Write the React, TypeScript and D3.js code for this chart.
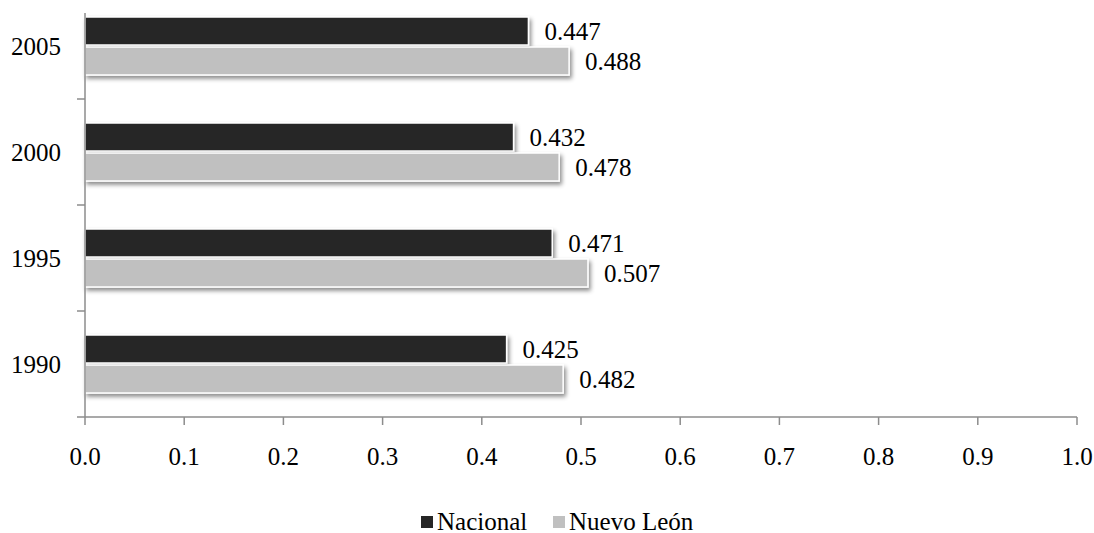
import React from "react";
import * as d3 from "d3";

const years = ["2005", "2000", "1995", "1990"];
const nacional = [0.447, 0.432, 0.471, 0.425];
const nuevoLeon = [0.488, 0.478, 0.507, 0.482];
const xTicks = [0, 0.1, 0.2, 0.3, 0.4, 0.5, 0.6, 0.7, 0.8, 0.9, 1.0];
const seriesNames = ["Nacional", "Nuevo León"];
const seriesColors = ["#262626", "#c0c0c0"];

const W = 1094;
const H = 533;
const left = 85;
const right = 1077;
const axisTop = 13;
const bottom = 417;
const axisColor = "#8c8c8c";
const serif = "Liberation Serif";
const fs = 25;

export default function App() {
  const x = d3.scaleLinear().domain([0, 1]).range([left, right]);
  const y = d3.scaleBand().domain(years).range([-7, bottom]);
  const bw = y.bandwidth();
  const barH = 28;
  const gap = 2;

  const rows = years.map((yr, i) => ({ yr, vals: [nacional[i], nuevoLeon[i]] }));

  return (
    <svg
      width={W}
      height={H}
      fontFamily={serif}
      style={{ display: "block", position: "absolute", left: 0, top: 0 }}
    >
      <defs>
        <filter id="shadow" x="-5%" y="-30%" width="110%" height="180%">
          <feDropShadow dx="2" dy="3" stdDeviation="2" floodColor="#000" floodOpacity="0.45" />
        </filter>
      </defs>
      <rect width={W} height={H} fill="#fff" />

      {rows.map((r) => {
        const c = (y(r.yr) as number) + bw / 2;
        const top = c - barH - gap / 2;
        return (
          <g key={r.yr}>
            {r.vals.map((v, s) => {
              const by = top + s * (barH + gap);
              return (
                <g key={s}>
                  <rect
                    x={x(0)}
                    y={by}
                    width={x(v) - x(0)}
                    height={barH}
                    fill={seriesColors[s]}
                    stroke="#fff"
                    strokeWidth={1.5}
                    filter="url(#shadow)"
                  />
                  <text x={x(v) + 16} y={by + barH / 2} dominantBaseline="central" fontSize={fs} fill="#000">
                    {v.toFixed(3)}
                  </text>
                </g>
              );
            })}
            <text x={61} y={c} textAnchor="end" dominantBaseline="central" fontSize={fs} fill="#000">
              {r.yr}
            </text>
          </g>
        );
      })}

      {/* y axis */}
      <line x1={left} x2={left} y1={axisTop} y2={bottom} stroke={axisColor} strokeWidth={1.5} />
      {years.slice(0, -1).map((yr) => {
        const yy = (y(yr) as number) + bw;
        return <line key={yr} x1={left - 8} x2={left} y1={yy} y2={yy} stroke={axisColor} strokeWidth={1.5} />;
      })}

      {/* x axis */}
      <line x1={left - 8} x2={right} y1={bottom} y2={bottom} stroke={axisColor} strokeWidth={1.5} />
      {xTicks.map((t) => (
        <g key={t}>
          <line x1={x(t)} x2={x(t)} y1={bottom} y2={bottom + 8} stroke={axisColor} strokeWidth={1.5} />
          <text x={x(t)} y={456} textAnchor="middle" dominantBaseline="central" fontSize={fs} fill="#000">
            {t.toFixed(1)}
          </text>
        </g>
      ))}

      {/* legend */}
      {seriesNames.map((n, i) => {
        const lx = i === 0 ? 421 : 553;
        return (
          <g key={n}>
            <rect x={lx} y={516} width={12} height={12} fill={seriesColors[i]} />
            <text x={lx + 16} y={521} dominantBaseline="central" fontSize={fs} fill="#000">
              {n}
            </text>
          </g>
        );
      })}
    </svg>
  );
}
